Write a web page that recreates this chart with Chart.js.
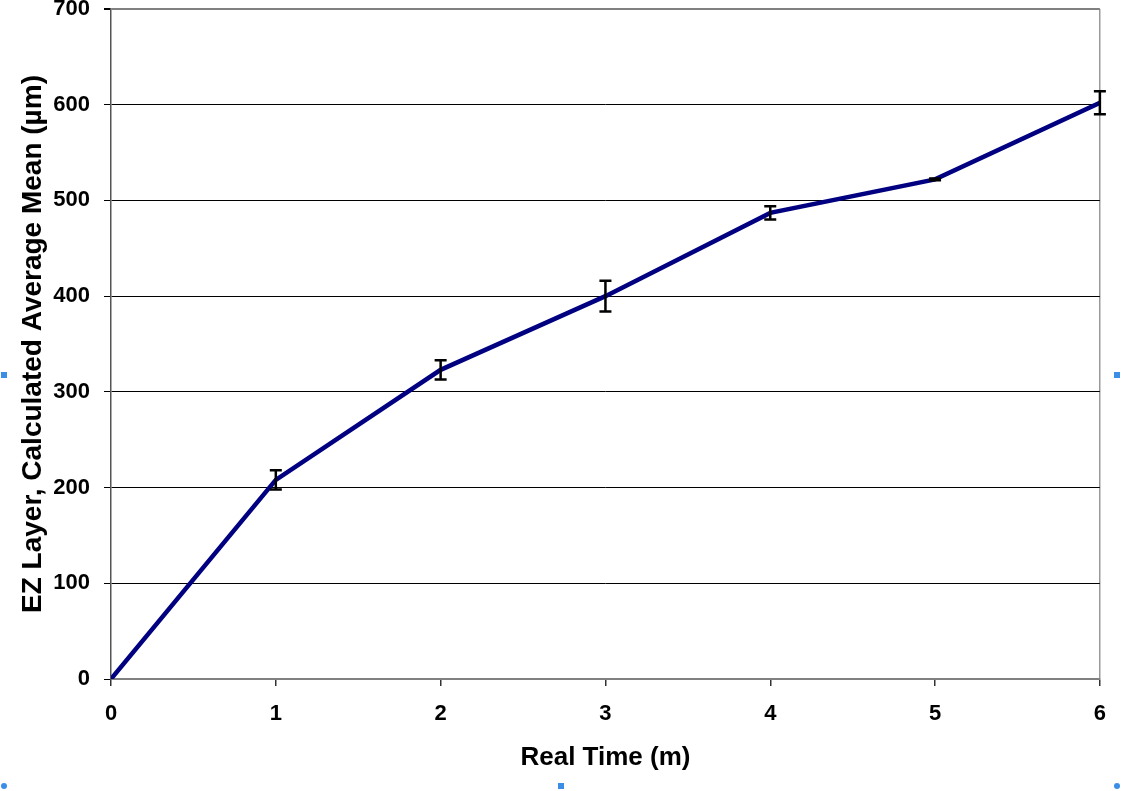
<!DOCTYPE html>
<html>
<head>
<meta charset="utf-8">
<script src="https://cdn.jsdelivr.net/npm/chart.js@4.4.1/dist/chart.umd.min.js"></script>
<style>
html,body{margin:0;padding:0;background:#fff;}
#wrap{position:relative;width:1121px;height:791px;}
canvas{position:absolute;left:0;top:0;}
.h{position:absolute;width:6px;height:6px;background:#3a8ee6;}
.c{border-radius:50%;}
</style>
</head>
<body>
<div id="wrap">
<canvas id="c" width="1121" height="791"></canvas>
<div class="h" style="left:1px;top:372px;"></div>
<div class="h" style="left:1114px;top:372px;"></div>
<div class="h" style="left:558px;top:783px;"></div>
<div class="h c" style="left:1px;top:783px;"></div>
<div class="h c" style="left:1114px;top:783px;"></div>
</div>
<script>
const times = [0, 1, 2, 3, 4, 5, 6];
const meanEZ = [0, 208, 323, 400, 487, 522, 602];
const errEZ = [0, 10, 10, 16, 7, 1, 12];
const xTitle = 'Real Time (m)';
const yTitle = 'EZ Layer, Calculated Average Mean (µm)';

const FONT = "'Liberation Sans', Arial, sans-serif";

const errorBars = {
  id: 'errorBars',
  afterDatasetsDraw(chart) {
    const {ctx, scales: {x, y}} = chart;
    ctx.save();
    ctx.strokeStyle = '#000';
    ctx.lineWidth = 2.5;
    times.forEach((t, i) => {
      const e = errEZ[i];
      if (!e) return;
      const px = x.getPixelForValue(t);
      const top = y.getPixelForValue(meanEZ[i] + e);
      const bot = y.getPixelForValue(meanEZ[i] - e);
      ctx.beginPath();
      ctx.moveTo(px, top); ctx.lineTo(px, bot);
      ctx.moveTo(px - 6, top); ctx.lineTo(px + 6, top);
      ctx.moveTo(px - 6, bot); ctx.lineTo(px + 6, bot);
      ctx.stroke();
    });
    ctx.restore();
  }
};

new Chart(document.getElementById('c'), {
  type: 'line',
  data: {
    datasets: [{
      data: times.map((t, i) => ({x: t, y: meanEZ[i]})),
      borderColor: '#000080',
      borderWidth: 4.5,
      pointRadius: 0,
      tension: 0,
      fill: false
    }]
  },
  options: {
    responsive: false,
    animation: false,
    layout: {padding: {top: 9, right: 20, left: 16, bottom: 0}},
    plugins: {legend: {display: false}, tooltip: {enabled: false}},
    scales: {
      x: {
        type: 'linear', min: 0, max: 6,
        afterFit(s) { s.height = 112; },
        ticks: {stepSize: 1, color: '#000', padding: 15, font: {family: FONT, size: 22, weight: 'bold'}},
        grid: {
          color: c => c.tick && c.tick.value === 6 ? '#999' : 'rgba(0,0,0,0)',
          tickColor: '#333', tickLength: 7, lineWidth: 1.5
        },
        border: {color: '#808080', width: 2},
        title: {display: true, text: xTitle, color: '#000', font: {family: FONT, size: 26, weight: 'bold'}, padding: {top: 4, bottom: 18}}
      },
      y: {
        min: 0, max: 700,
        afterFit(s) { s.width = 95; s.paddingTop = 0; s.paddingBottom = 0; },
        ticks: {stepSize: 100, color: '#000', padding: 14, font: {family: FONT, size: 22, weight: 'bold'}},
        grid: {
          color: c => c.tick && c.tick.value === 700 ? '#808080' : '#000',
          tickColor: '#000', tickLength: 7, lineWidth: c => c.tick && c.tick.value === 700 ? 2 : 1
        },
        border: {color: '#555', width: 1.5},
        title: {display: true, text: yTitle, color: '#000', font: {family: FONT, size: 28, weight: 'bold'}, padding: {top: 0, bottom: 6}}
      }
    }
  },
  plugins: [errorBars]
});
</script>
</body>
</html>
